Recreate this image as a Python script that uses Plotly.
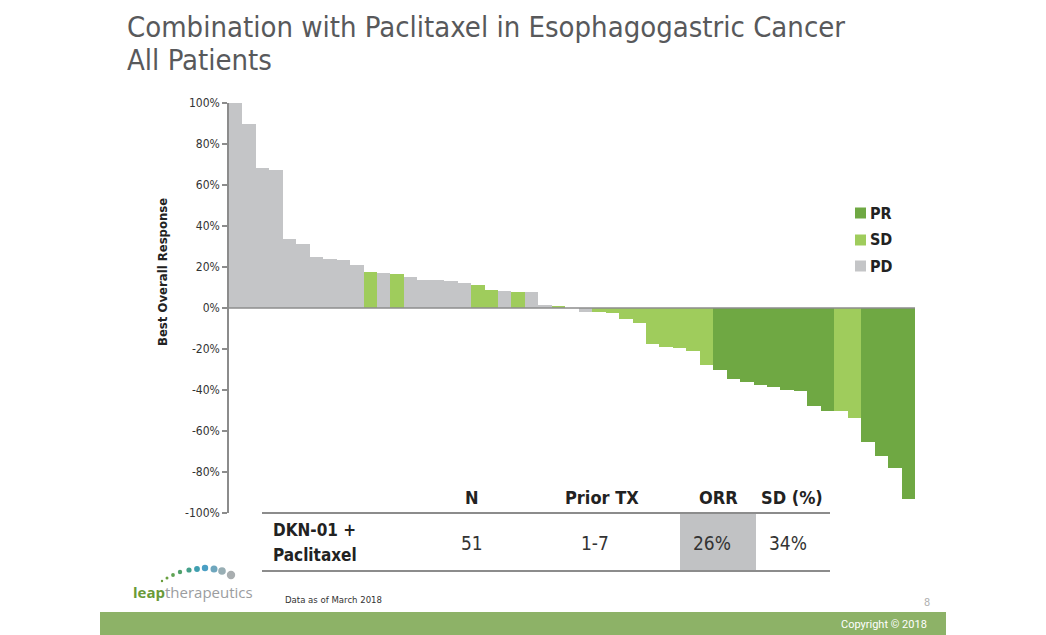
import plotly.graph_objects as go

# ---------------- data ----------------
patients = list(range(1, 52))
best_response = [100.0, 90.0, 68.3, 67.3, 33.8, 31.4, 24.9, 24.1, 23.6, 21.0,
                 17.6, 17.2, 16.6, 15.0, 13.8, 13.7, 13.0, 12.4, 11.2, 8.8,
                 8.3, 7.6, 7.6, 1.3, 0.7, 0.0, -1.8, -2.0, -2.4, -5.5,
                 -7.5, -17.6, -18.9, -19.5, -20.8, -27.8, -30.2, -34.5, -35.9, -37.7,
                 -38.5, -39.8, -40.3, -47.6, -50.4, -50.4, -53.7, -65.2, -72.0, -78.0,
                 -93.0]
response_class = (["PD"] * 10 + ["SD", "PD", "SD"] + ["PD"] * 5 + ["SD", "SD", "PD", "SD", "PD", "PD", "SD", "PD", "PD"]
                  + ["SD"] * 9 + ["PR"] * 9 + ["SD", "SD"] + ["PR"] * 4)
legend_order = ["PR", "SD", "PD"]

y_ticks = [-100, -80, -60, -40, -20, 0, 20, 40, 60, 80, 100]
y_tick_labels = [f"{v}%" for v in y_ticks]

table_headers = ["N", "Prior TX", "ORR", "SD (%)"]
table_row_label = ["DKN-01 +", "Paclitaxel"]
table_row_values = ["51", "1-7", "26%", "34%"]

title_lines = ["Combination with Paclitaxel in Esophagogastric Cancer", "All Patients"]
y_title = "Best Overall Response"

# ---------------- styles ----------------
colors = {"PR": "#6fa843", "SD": "#9fcc5c", "PD": "#c4c5c7"}
COND = "'DejaVu Sans Condensed', 'DejaVu Sans', sans-serif"
W, H = 1046, 635
L, R, T, B = 229, 915, 103, 513


def px(x):
    return (x - L) / (R - L)


def py(y):
    return (B - y) / (B - T)


fig = go.Figure()
for cls in legend_order:
    xs = [p for p, c in zip(patients, response_class) if c == cls]
    ys = [v for v, c in zip(best_response, response_class) if c == cls]
    fig.add_trace(go.Bar(x=xs, y=ys, name=cls, width=1.0,
                         marker=dict(color=colors[cls], line=dict(width=0)),
                         showlegend=False))

shapes = []
annotations = []

# zero line above bars
shapes.append(dict(type="line", xref="paper", yref="y", x0=0, x1=1, y0=0, y1=0,
                   line=dict(color="#8c8c8c", width=1.5), layer="above"))

# y-axis title
annotations.append(dict(text=f"<b>{y_title}</b>", xref="paper", yref="paper", x=px(162), y=py(272),
                        xanchor="center", yanchor="middle", textangle=-90, showarrow=False,
                        font=dict(family=COND, size=13, color="#222222")))

# manual legend
leg_y = [213, 240, 266]
for cls, yy in zip(legend_order, leg_y):
    shapes.append(dict(type="rect", xref="paper", yref="paper",
                       x0=px(855), x1=px(866), y0=py(yy - 5.5), y1=py(yy + 5.5),
                       fillcolor=colors[cls], line=dict(width=0)))
    annotations.append(dict(text=f"<b>{cls}</b>", xref="paper", yref="paper",
                            x=px(868), y=py(yy), xanchor="left", yanchor="middle",
                            showarrow=False, font=dict(family=COND, size=16, color="#222222")))

# title
annotations.append(dict(text=title_lines[0], xref="paper", yref="paper", x=px(125), y=py(27),
                        xanchor="left", yanchor="middle", showarrow=False,
                        font=dict(family=COND, size=29, color="#58595b")))
annotations.append(dict(text=title_lines[1], xref="paper", yref="paper", x=px(125), y=py(60),
                        xanchor="left", yanchor="middle", showarrow=False,
                        font=dict(family=COND, size=29, color="#58595b")))

# table
header_x = [472, 602, 718, 792]
value_x = [472, 595, 712, 788]
shapes.append(dict(type="rect", xref="paper", yref="paper", x0=px(680), x1=px(756),
                   y0=py(571), y1=py(513), fillcolor="#c1c2c4", line=dict(width=0), layer="below"))
for yy in (513, 571):
    shapes.append(dict(type="line", xref="paper", yref="paper", x0=px(262), x1=px(830),
                       y0=py(yy), y1=py(yy), line=dict(color="#8c8c8c", width=2)))
for hx, h in zip(header_x, table_headers):
    annotations.append(dict(text=f"<b>{h}</b>", xref="paper", yref="paper", x=px(hx), y=py(497),
                            xanchor="center", yanchor="middle", showarrow=False,
                            font=dict(family=COND, size=18, color="#222222")))
for vx, v in zip(value_x, table_row_values):
    annotations.append(dict(text=v, xref="paper", yref="paper", x=px(vx), y=py(543),
                            xanchor="center", yanchor="middle", showarrow=False,
                            font=dict(family=COND, size=19, color="#333333")))
for yy, t in zip((530, 555), table_row_label):
    annotations.append(dict(text=f"<b>{t}</b>", xref="paper", yref="paper", x=px(271), y=py(yy),
                            xanchor="left", yanchor="middle", showarrow=False,
                            font=dict(family=COND, size=17, color="#222222")))

# footnote, page number
annotations.append(dict(text="Data as of March 2018", xref="paper", yref="paper", x=px(283), y=py(599),
                        xanchor="left", yanchor="middle", showarrow=False,
                        font=dict(family=COND, size=9.5, color="#333333")))
annotations.append(dict(text="8", xref="paper", yref="paper", x=px(927), y=py(602),
                        xanchor="center", yanchor="middle", showarrow=False,
                        font=dict(family="Roboto", size=11, color="#b0b0b0")))

# footer band
shapes.append(dict(type="rect", xref="paper", yref="paper", x0=px(100), x1=px(946),
                   y0=py(636), y1=py(612), fillcolor="#8db267", line=dict(width=0), layer="below"))
annotations.append(dict(text="Copyright © 2018", xref="paper", yref="paper", x=px(929), y=py(624),
                        xanchor="right", yanchor="middle", showarrow=False,
                        font=dict(family="Roboto", size=11, color="#ffffff")))

# logo
dots = [(162, 581, 1.2, "#6a9d3c"), (167, 578, 1.5, "#6aa040"), (173, 575, 1.9, "#5fa354"),
        (180, 572, 2.2, "#4fa06a"), (189, 570, 2.6, "#45a08a"), (197, 569, 2.9, "#3f9fb0"),
        (205, 568, 3.2, "#4a9fc4"), (214, 569, 3.5, "#6ea6bd"), (222, 571, 3.8, "#98aeb4"),
        (231, 575, 4.2, "#a9aeb0")]
for dx, dy, rr, dc in dots:
    shapes.append(dict(type="circle", xref="paper", yref="paper",
                       x0=px(dx - rr), x1=px(dx + rr), y0=py(dy + rr), y1=py(dy - rr),
                       fillcolor=dc, line=dict(width=0)))
annotations.append(dict(text="<span style='color:#6a9a38'><b>leap</b></span><span style='color:#9b9d9f'>therapeutics</span>",
                        xref="paper", yref="paper", x=px(131), y=py(592),
                        xanchor="left", yanchor="middle", showarrow=False,
                        font=dict(family="'Open Sans', sans-serif", size=15)))

fig.update_layout(
    width=W, height=H, autosize=False,
    margin=dict(l=L, r=W - R, t=T, b=H - B, pad=0),
    paper_bgcolor="white", plot_bgcolor="white",
    barmode="overlay", bargap=0,
    showlegend=False,
    shapes=shapes, annotations=annotations,
    xaxis=dict(visible=False, range=[0.5, 51.5], fixedrange=True),
    yaxis=dict(range=[-100, 100], tickvals=y_ticks, ticktext=y_tick_labels,
               showgrid=False, zeroline=False, showline=True, linecolor="#8c8c8c", linewidth=1.5,
               ticks="outside", ticklen=5, tickcolor="#8c8c8c", tickwidth=1.5,
               tickfont=dict(family=COND, size=12, color="#333333"),
               fixedrange=True),
)

fig.write_html("out.html", config={"displayModeBar": False},
               post_script="document.body.style.margin='0';document.body.style.overflow='hidden';")
